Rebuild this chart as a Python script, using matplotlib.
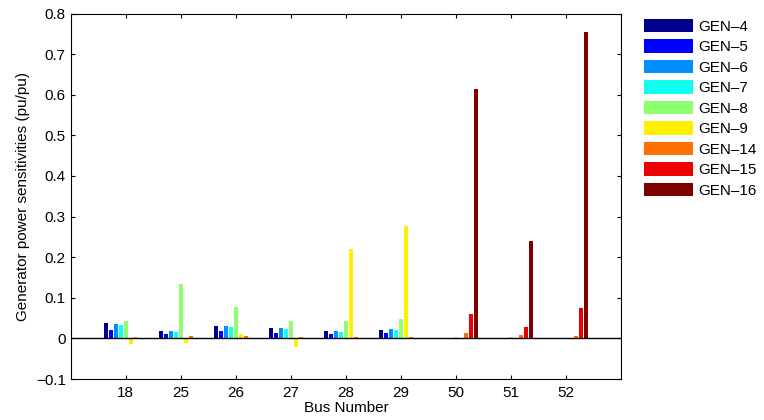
import numpy as np
import matplotlib
matplotlib.use("Agg")
import matplotlib.pyplot as plt

plt.rcParams["font.family"] = ["Liberation Sans", "DejaVu Sans"]

buses = ["18", "25", "26", "27", "28", "29", "50", "51", "52"]
gens = ["GEN–4", "GEN–5", "GEN–6", "GEN–7", "GEN–8", "GEN–9", "GEN–14", "GEN–15", "GEN–16"]
colors = ["#00008F", "#0000FF", "#008FFF", "#10FFEF", "#8FFF70",
          "#FFEF00", "#FF7000", "#EF0000", "#800000"]

# one list per generator, values per bus
gen4 = [0.038, 0.018, 0.030, 0.025, 0.018, 0.021, -0.002, -0.002, -0.002]
gen5 = [0.020, 0.011, 0.018, 0.013, 0.011, 0.013, -0.002, -0.002, -0.002]
gen6 = [0.035, 0.018, 0.030, 0.025, 0.018, 0.023, -0.002, -0.002, -0.002]
gen7 = [0.032, 0.015, 0.027, 0.023, 0.016, 0.021, -0.002, -0.002, -0.002]
gen8 = [0.042, 0.135, 0.077, 0.043, 0.043, 0.048, 0.003, 0.003, 0.001]
gen9 = [-0.014, -0.011, 0.011, -0.022, 0.219, 0.278, 0.001, 0.001, 0.001]
gen14 = [0.004, 0.006, 0.006, 0.003, 0.003, 0.003, 0.013, 0.008, 0.006]
gen15 = [0.001, 0.001, 0.001, 0.001, 0.001, 0.001, 0.060, 0.028, 0.075]
gen16 = [0.001, 0.001, 0.001, 0.001, 0.001, 0.001, 0.615, 0.240, 0.755]
sens = [gen4, gen5, gen6, gen7, gen8, gen9, gen14, gen15, gen16]

fig = plt.figure(figsize=(7.64, 4.2), dpi=100)
ax = fig.add_axes([0.0925, 0.0976, 0.7205, 0.8702])

x = np.arange(1, len(buses) + 1)
n = len(gens)
slot = 0.8 / n
for i, (vals, c, lab) in enumerate(zip(sens, colors, gens)):
    off = (i - (n - 1) / 2) * slot
    ax.bar(x + off, vals, width=0.8 * slot, color=c, label=lab, linewidth=0)

ax.axhline(0, color="k", lw=1)
ax.set_xlim(0, 10)
ax.set_ylim(-0.1, 0.8)
ax.set_xticks(x)
ax.set_xticklabels(buses)
yt = np.round(np.arange(-0.1, 0.81, 0.1), 1)
ax.set_yticks(yt)
ax.set_yticklabels(["0" if v == 0 else f"{v:.1f}".replace("-", "\u2212") for v in yt])
ax.tick_params(direction="in", length=3, top=True, right=True, labelsize=11)
ax.tick_params(axis="x", pad=5)
ax.set_xlabel("Bus Number", fontsize=11, labelpad=1)
ax.set_ylabel("Generator power sensitivities (pu/pu)", fontsize=11)

fig.legend(loc="upper left", bbox_to_anchor=(644 / 764, 1 - 19 / 420),
           bbox_transform=fig.transFigure, frameon=False, fontsize=11,
           handlelength=3.2, handleheight=0.95, labelspacing=0.37,
           handletextpad=0.33, borderpad=0, borderaxespad=0)

fig.savefig("out.png", dpi=100)
